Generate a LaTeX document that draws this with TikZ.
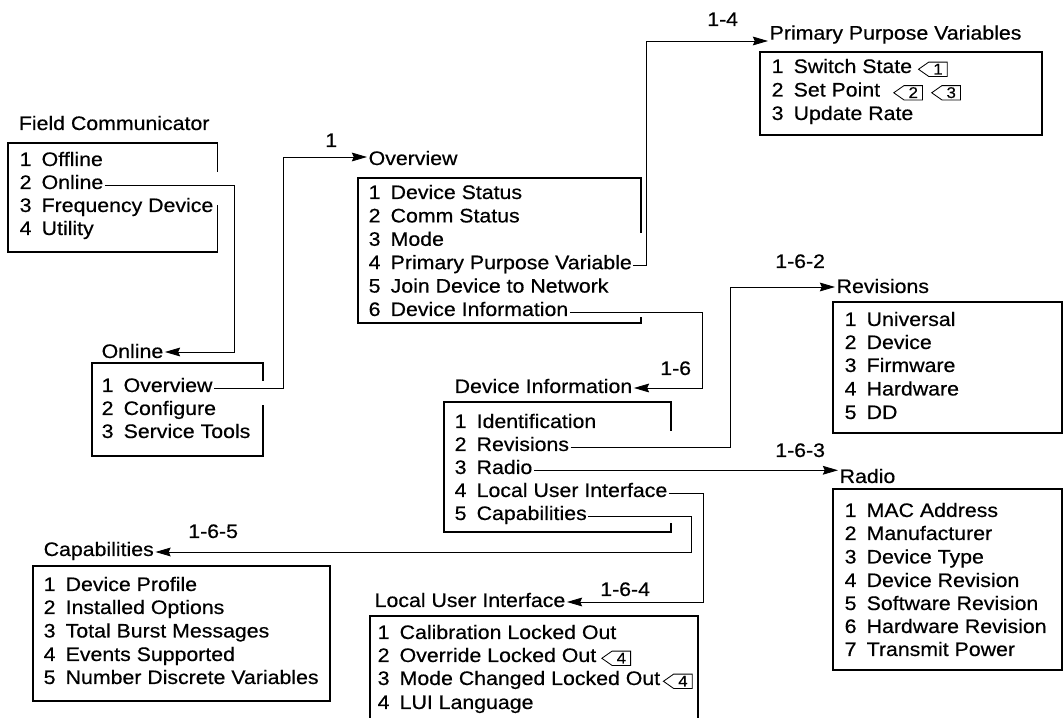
\documentclass[tikz,border=0pt]{standalone}
\usepackage{fontspec}
\setmainfont{Liberation Sans}[FakeStretch=1.09,FakeBold=0.5]
\usetikzlibrary{arrows.meta, positioning, shapes.symbols}

\newcommand{\mi}[2]{\makebox[0.55cm][l]{#1}#2}

\begin{document}
\begin{tikzpicture}[
	every node/.style={font=\fontsize{13.9}{16}\selectfont},
	boxstyle/.style={draw,line width=0.8pt},
	titlestyle/.style={anchor=base west,inner xsep=1pt,inner ysep=0pt},
	itemstyle/.style={anchor=base west,inner xsep=1pt,inner ysep=0pt},
	lblstyle/.style={anchor=base west,inner sep=0pt},
	conn/.style={-{Stealth[length=0.38cm,width=0.22cm,inset=0.05cm]},line width=0.6pt},
	tagmark/.style={draw,line width=0.6pt,signal,signal to=west,signal pointer angle=70,
		minimum height=0.36cm,minimum width=0.72cm,inner xsep=0.05cm,inner ysep=0pt,
		text height=0.26cm,text depth=0pt,font=\fontsize{11}{11}\selectfont}
]
	\useasboundingbox (0,0) rectangle (26.6,17.95);

	% Field Communicator
	\node[titlestyle] (fcT) at (0.43,14.70) {Field Communicator};
	\draw[boxstyle] (5.43,13.65) -- (5.43,14.375) -- (0.20,14.375) -- (0.20,11.65) -- (5.43,11.65) -- (5.43,12.825);
	\node[itemstyle] (fc1) at (0.45,13.80) {\mi{1}{Offline}};
	\node[itemstyle] (fc2) at (0.45,13.225) {\mi{2}{Online}};
	\node[itemstyle] (fc3) at (0.45,12.65) {\mi{3}{Frequency Device}};
	\node[itemstyle] (fc4) at (0.45,12.075) {\mi{4}{Utility}};

	% Online
	\node[titlestyle] (onT) at (2.50,9.00) {Online};
	\draw[boxstyle] (6.575,8.425) -- (6.575,8.875) -- (2.30,8.875) -- (2.30,6.55) -- (6.575,6.55) -- (6.575,7.825);
	\node[itemstyle] (on1) at (2.50,8.15) {\mi{1}{Overview}};
	\node[itemstyle] (on2) at (2.50,7.575) {\mi{2}{Configure}};
	\node[itemstyle] (on3) at (2.50,7.0) {\mi{3}{Service Tools}};

	% Overview
	\node[titlestyle] (ovT) at (9.175,13.825) {Overview};
	\draw[boxstyle] (16.025,12.125) -- (16.025,13.5) -- (8.95,13.5) -- (8.95,9.875) -- (16.025,9.875) -- (16.025,10.025);
	\node[itemstyle] (ov1) at (9.175,12.975) {\mi{1}{Device Status}};
	\node[itemstyle] (ov2) at (9.175,12.39) {\mi{2}{Comm Status}};
	\node[itemstyle] (ov3) at (9.175,11.805) {\mi{3}{Mode}};
	\node[itemstyle] (ov4) at (9.175,11.22) {\mi{4}{Primary Purpose Variable}};
	\node[itemstyle] (ov5) at (9.175,10.635) {\mi{5}{Join Device to Network}};
	\node[itemstyle] (ov6) at (9.175,10.05) {\mi{6}{Device Information}};

	% Primary Purpose Variables
	\node[titlestyle] (ppvT) at (19.2,16.96) {Primary Purpose Variables};
	\draw[boxstyle] (19.0,14.575) rectangle (26.05,16.65);
	\node[itemstyle] (ppv1) at (19.25,16.125) {\mi{1}{Switch State}};
	\node[itemstyle] (ppv2) at (19.25,15.5375) {\mi{2}{Set Point}};
	\node[itemstyle] (ppv3) at (19.25,14.95) {\mi{3}{Update Rate}};
	\node[tagmark,right=0.1cm of ppv1.mid east] (tg1) {1};
	\node[tagmark,right=0.28cm of ppv2.mid east] (tg2) {2};
	\node[tagmark,right=0.2cm of tg2] (tg3) {3};

	% Device Information
	\node[titlestyle] (diT) at (11.325,8.125) {Device Information};
	\draw[boxstyle] (16.775,7.175) -- (16.775,7.90) -- (11.10,7.90) -- (11.10,4.65) -- (16.775,4.65) -- (16.775,4.875);
	\node[itemstyle] (di1) at (11.325,7.25) {\mi{1}{Identification}};
	\node[itemstyle] (di2) at (11.325,6.675) {\mi{2}{Revisions}};
	\node[itemstyle] (di3) at (11.325,6.10) {\mi{3}{Radio}};
	\node[itemstyle] (di4) at (11.325,5.525) {\mi{4}{Local User Interface}};
	\node[itemstyle] (di5) at (11.325,4.95) {\mi{5}{Capabilities}};

	% Revisions
	\node[titlestyle] (revT) at (20.875,10.625) {Revisions};
	\draw[boxstyle] (20.825,7.125) rectangle (26.55,10.40);
	\node[itemstyle] (rev1) at (21.075,9.80) {\mi{1}{Universal}};
	\node[itemstyle] (rev2) at (21.075,9.225) {\mi{2}{Device}};
	\node[itemstyle] (rev3) at (21.075,8.65) {\mi{3}{Firmware}};
	\node[itemstyle] (rev4) at (21.075,8.0625) {\mi{4}{Hardware}};
	\node[itemstyle] (rev5) at (21.075,7.475) {\mi{5}{DD}};

	% Radio
	\node[titlestyle] (radT) at (20.95,5.875) {Radio};
	\draw[boxstyle] (20.825,1.20) rectangle (26.55,5.725);
	\node[itemstyle] (rad1) at (21.075,5.025) {\mi{1}{MAC Address}};
	\node[itemstyle] (rad2) at (21.075,4.45) {\mi{2}{Manufacturer}};
	\node[itemstyle] (rad3) at (21.075,3.8625) {\mi{3}{Device Type}};
	\node[itemstyle] (rad4) at (21.075,3.275) {\mi{4}{Device Revision}};
	\node[itemstyle] (rad5) at (21.075,2.70) {\mi{5}{Software Revision}};
	\node[itemstyle] (rad6) at (21.075,2.125) {\mi{6}{Hardware Revision}};
	\node[itemstyle] (rad7) at (21.075,1.55) {\mi{7}{Transmit Power}};

	% Capabilities
	\node[titlestyle] (capT) at (1.05,4.05) {Capabilities};
	\draw[boxstyle] (0.825,0.425) rectangle (8.25,3.80);
	\node[itemstyle] (cap1) at (1.05,3.175) {\mi{1}{Device Profile}};
	\node[itemstyle] (cap2) at (1.05,2.60) {\mi{2}{Installed Options}};
	\node[itemstyle] (cap3) at (1.05,2.0125) {\mi{3}{Total Burst Messages}};
	\node[itemstyle] (cap4) at (1.05,1.425) {\mi{4}{Events Supported}};
	\node[itemstyle] (cap5) at (1.05,0.85) {\mi{5}{Number Discrete Variables}};

	% Local User Interface
	\node[titlestyle] (luiT) at (9.325,2.775) {Local User Interface};
	\draw[boxstyle] (9.25,0) -- (9.25,2.55) -- (17.45,2.55) -- (17.45,0);
	\node[itemstyle] (lui1) at (9.40,1.975) {\mi{1}{Calibration Locked Out}};
	\node[itemstyle] (lui2) at (9.40,1.40) {\mi{2}{Override Locked Out}};
	\node[itemstyle] (lui3) at (9.40,0.825) {\mi{3}{Mode Changed Locked Out}};
	\node[itemstyle] (lui4) at (9.40,0.225) {\mi{4}{LUI Language}};
	\node[tagmark,right=0.08cm of lui2.mid east] (tg4) {4};
	\node[tagmark,right=0.02cm of lui3.mid east] (tg5) {4};

	% connectors
	\coordinate (j1) at (5.85,9.15);
	\coordinate (j11) at (7.075,14.025);
	\coordinate (j14) at (16.15,16.925);
	\coordinate (j16) at (17.55,8.25);
	\coordinate (j162) at (18.25,10.775);
	\coordinate (j164) at (17.575,2.90);
	\coordinate (j165) at (17.275,4.15);
	\draw[conn] (fc2.mid east) -| (j1) -- (j1 -| onT.east);
	\draw[conn] (on1.mid east) -| (j11) -- (j11 -| ovT.west);
	\draw[conn] (ov4.mid east) -| (j14) -- (j14 -| ppvT.west);
	\draw[conn] (ov6.mid east) -| (j16) -- (j16 -| diT.east);
	\draw[conn] (di2.mid east) -| (j162) -- (j162 -| revT.west);
	\draw[conn] (di3.mid east) -- (di3.mid east -| radT.west);
	\draw[conn] (di4.mid east) -| (j164) -- (j164 -| luiT.east);
	\draw[conn] (di5.mid east) -| (j165) -- (j165 -| capT.east);

	\node[lblstyle] (l1) at (8.125,14.275) {1};
	\node[lblstyle] (l14) at (17.675,17.3) {1-4};
	\node[lblstyle] (l16) at (16.5,8.575) {1-6};
	\node[lblstyle] (l162) at (19.375,11.25) {1-6-2};
	\node[lblstyle] (l163) at (19.375,6.525) {1-6-3};
	\node[lblstyle] (l164) at (15.0,3.05) {1-6-4};
	\node[lblstyle] (l165) at (4.70,4.50) {1-6-5};
\end{tikzpicture}
\end{document}
